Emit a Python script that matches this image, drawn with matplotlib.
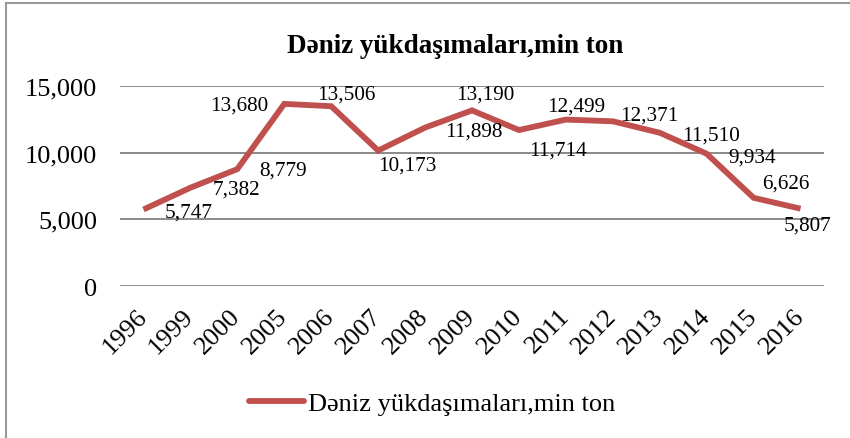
import matplotlib
matplotlib.use("Agg")
import matplotlib.pyplot as plt
from matplotlib.lines import Line2D

years = ["1996", "1999", "2000", "2005", "2006", "2007", "2008", "2009",
         "2010", "2011", "2012", "2013", "2014", "2015", "2016"]
values = [5747, 7382, 8779, 13680, 13506, 10173, 11898, 13190,
          11714, 12499, 12371, 11510, 9934, 6626, 5807]
y_ticks = [0, 5000, 10000, 15000]
title = "Dəniz yükdaşımaları,min ton"
series_name = "Dəniz yükdaşımaları,min ton"

# label offsets (pixels, x right / y up) mimicking the reference placement
label_dx = [45.5, 46, 46, -45, 15, 29, 49, 13, 39, 10, 36, 51, 46, 32, 7.5]
label_dy = [-2.5, -1.3, -1, -1, 12, -14.5, -3.5, 16, -20, 13.6, 6, -2, -3, 15, -16]

SERIF = ["Liberation Serif", "DejaVu Serif"]
plt.rcParams["font.family"] = SERIF

W, H = 850, 439
fig = plt.figure(figsize=(W / 100, H / 100), dpi=100)
ax = fig.add_axes([120 / W, 1 - 287 / H, (824 - 120) / W, (287 - 87.3) / H])

red = "#C0504D"
x = list(range(len(years)))
ax.plot(x, values, color=red, lw=4.2, solid_joinstyle="miter", solid_capstyle="butt",
        label=series_name, zorder=3)

for i, v in enumerate(values):
    ax.annotate(f"{v:,}", xy=(i, v), xytext=(label_dx[i], label_dy[i]),
                textcoords="offset pixels", ha="center", va="center",
                fontsize=15.3, color="black", zorder=4)

ax.set_xlim(-0.5, len(years) - 0.5)
ax.set_ylim(0, 15000)
ax.set_yticks(y_ticks)
ax.set_yticklabels([f"{t:,}" for t in y_ticks])
ax.set_xticks(x)
ax.set_xticklabels(years, rotation=45, ha="right", va="center", rotation_mode="anchor")
ax.tick_params(axis="y", length=0, pad=16.5, labelsize=19)
ax.tick_params(axis="x", length=0, pad=19, labelsize=19)
ax.grid(axis="y", color="#8a8a8a", lw=1.4)
ax.set_axisbelow(True)
for s in ax.spines.values():
    s.set_visible(False)

fig.text(455 / W, 1 - 53 / H, title, ha="center", va="baseline",
         fontsize=19.5, fontweight="bold")

leg = fig.legend(handles=[Line2D([0], [0], color=red, lw=4.2, solid_capstyle="round")],
                 labels=[series_name], loc="center",
                 bbox_to_anchor=(432 / W, 1 - 404 / H), frameon=False,
                 fontsize=19, handlelength=2.1, handletextpad=0.15,
                 borderaxespad=0, borderpad=0)

# partial chart border (left and top edges visible)
fig.add_artist(Line2D([6 / W, 6 / W], [0, 1 - 3.5 / H], color="#9a9a9a", lw=1.5,
                      transform=fig.transFigure))
fig.add_artist(Line2D([6 / W, 1], [1 - 3.5 / H, 1 - 3.5 / H], color="#9a9a9a", lw=1.5,
                      transform=fig.transFigure))

fig.savefig("out.png", dpi=100, facecolor="white")
